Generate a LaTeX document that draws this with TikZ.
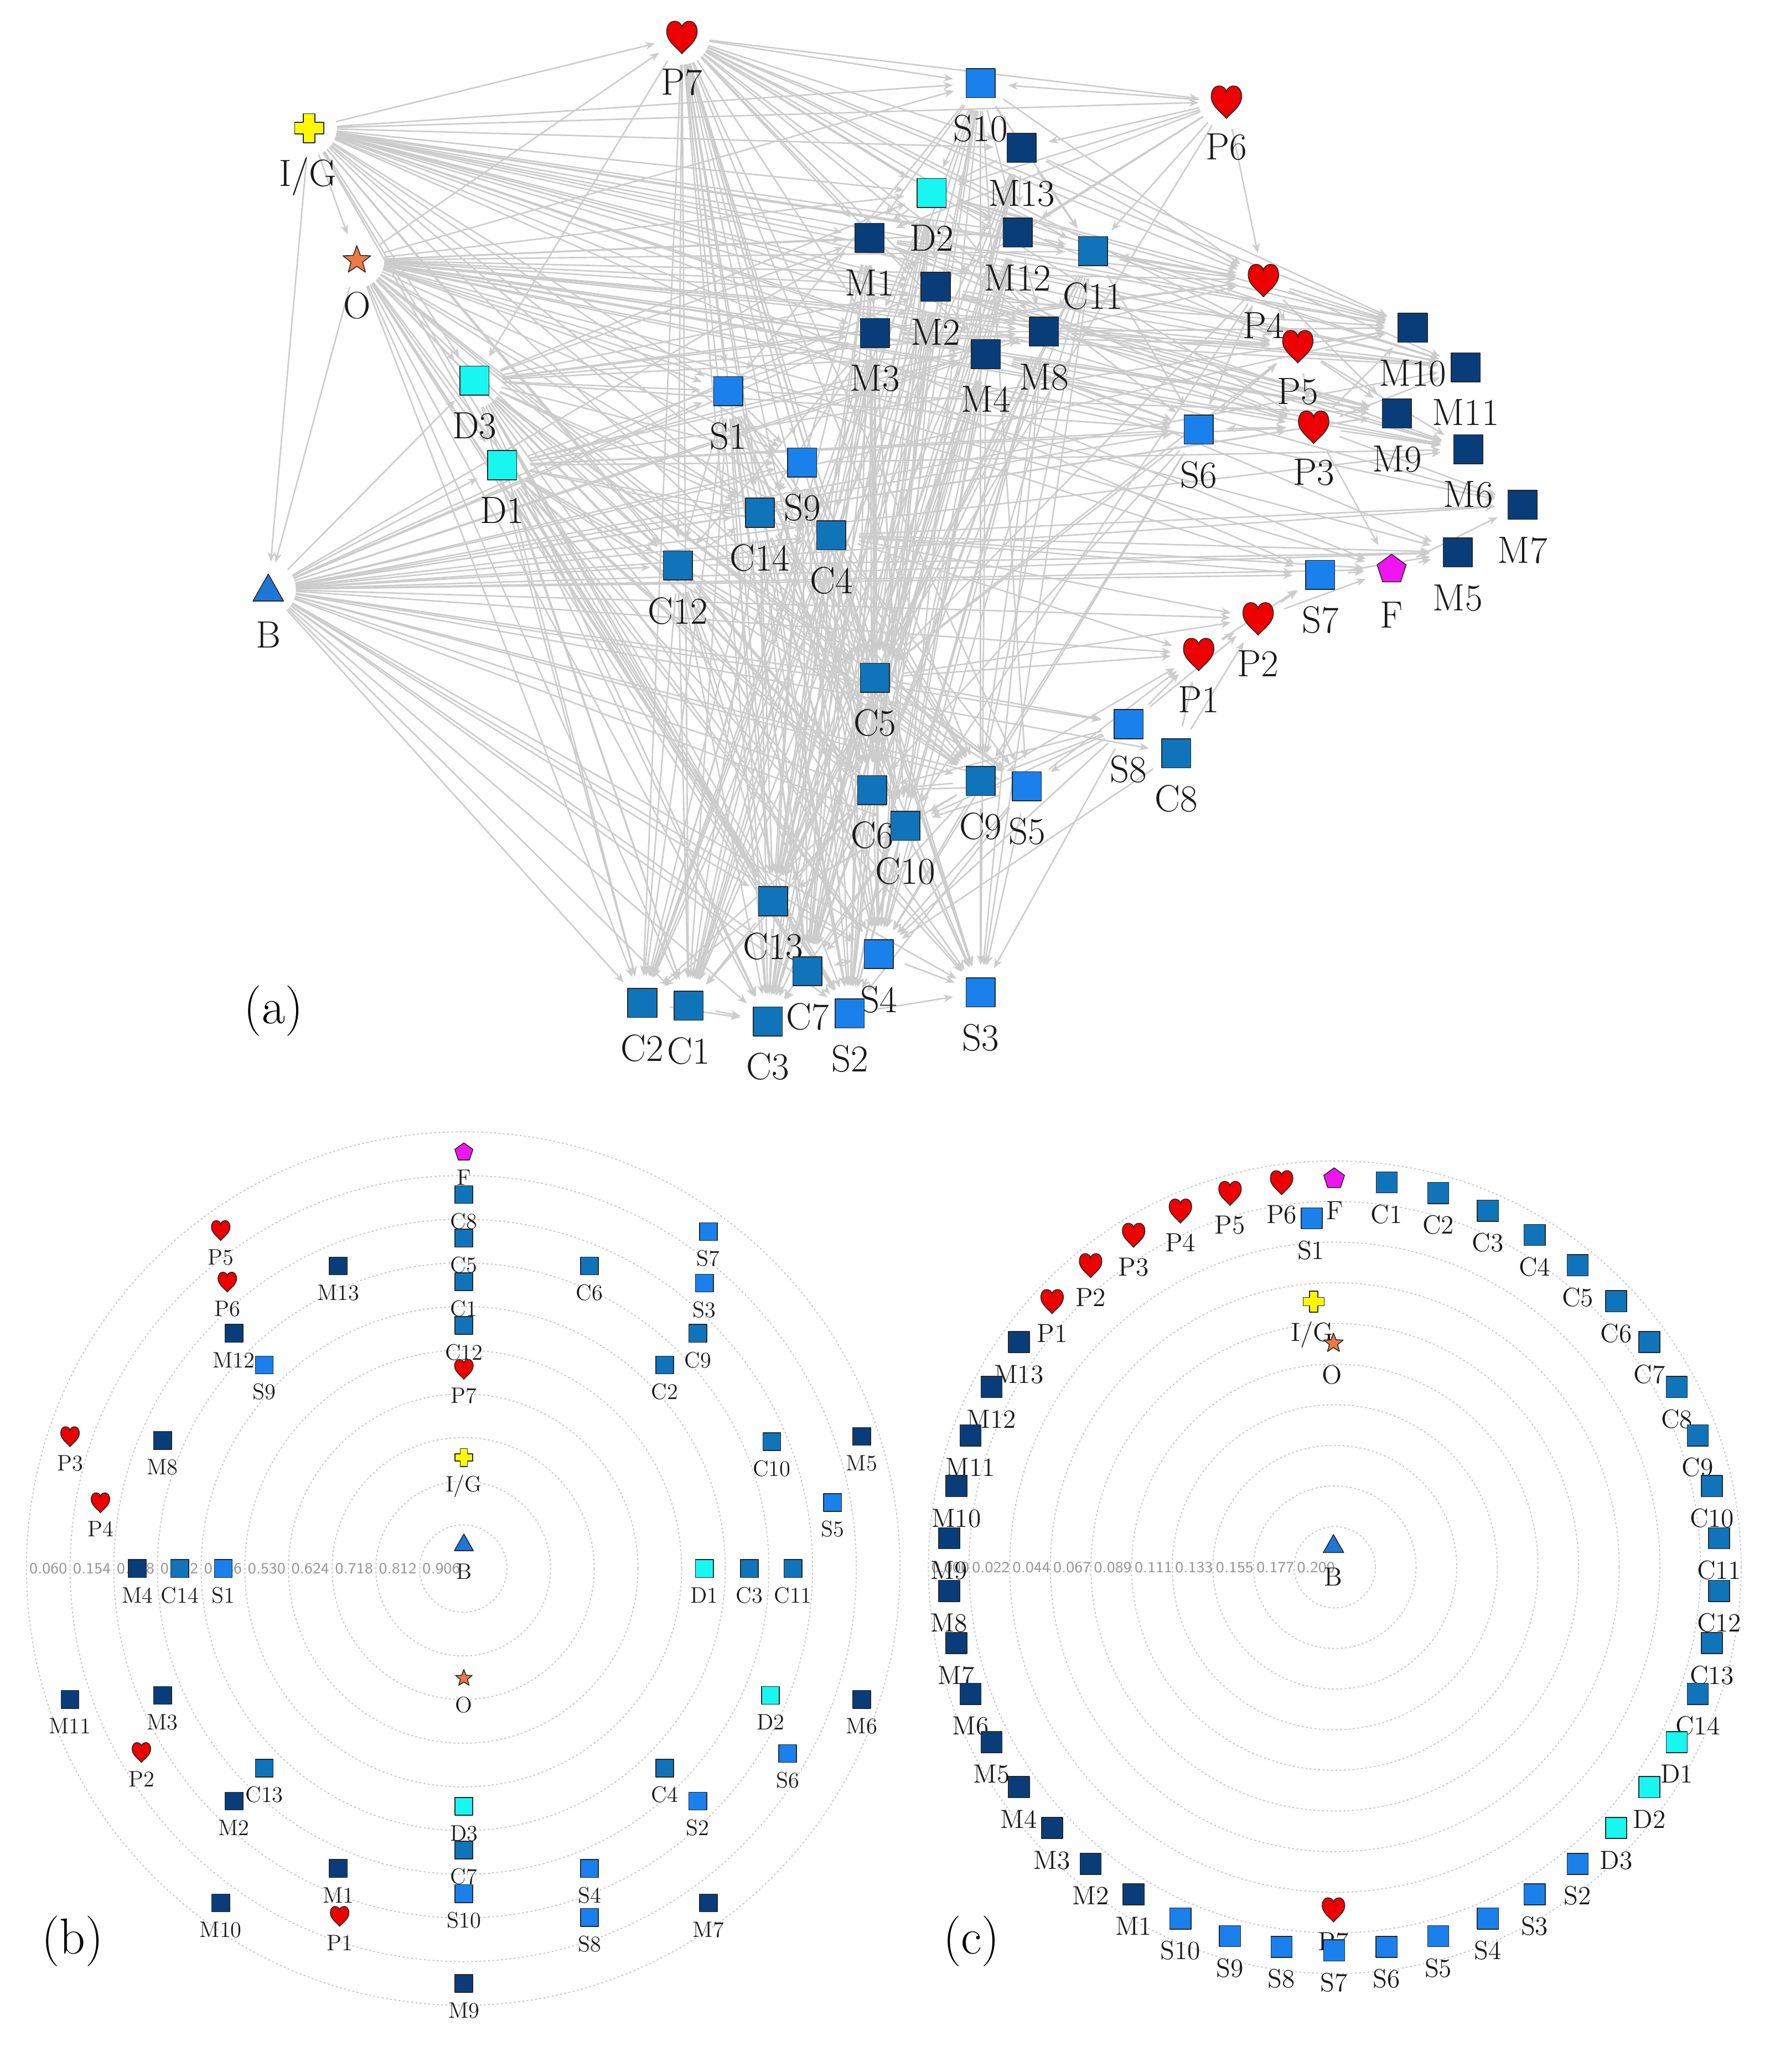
\documentclass[tikz,border=0pt]{standalone}
\usepackage{fontspec}
\usetikzlibrary{arrows.meta,calc}
\definecolor{Mcol}{RGB}{8,61,122}
\definecolor{Ccol}{RGB}{16,116,186}
\definecolor{Scol}{RGB}{26,128,236}
\definecolor{Dcol}{RGB}{24,246,240}
\definecolor{Pcol}{RGB}{238,0,0}
\definecolor{Fcol}{RGB}{240,20,240}
\definecolor{IGcol}{RGB}{255,250,0}
\definecolor{Ocol}{RGB}{236,122,70}
\definecolor{Bcol}{RGB}{30,118,214}
\definecolor{symline}{RGB}{40,40,40}
\definecolor{edgecol}{RGB}{204,204,204}
\definecolor{ringcol}{RGB}{196,196,196}
\definecolor{scalecol}{RGB}{150,150,150}
\definecolor{txtcol}{RGB}{25,25,25}

\tikzset{
 symstroke/.style={draw=symline,line width=0.45pt,line join=round},
 pics/sqsym/.style args={#1/#2}{code={\path[symstroke,fill=#2] (-#1/2,-#1/2) rectangle (#1/2,#1/2);}},
 pics/heartsym/.style={code={\begin{scope}[scale=#1]\path[symstroke,fill=Pcol] (0,0.55) .. controls (-0.15,0.36) and (-0.5,0.15) .. (-0.5,-0.17) .. controls (-0.5,-0.42) and (-0.36,-0.52) .. (-0.25,-0.52) .. controls (-0.1,-0.52) and (0,-0.42) .. (0,-0.3) .. controls (0,-0.42) and (0.1,-0.52) .. (0.25,-0.52) .. controls (0.36,-0.52) and (0.5,-0.42) .. (0.5,-0.17) .. controls (0.5,0.15) and (0.15,0.36) .. (0,0.55) -- cycle;\end{scope}}},
 pics/crosssym/.style={code={\begin{scope}[scale=#1]\path[symstroke,fill=IGcol] (-0.2,-0.5) -- (0.2,-0.5) -- (0.2,-0.2) -- (0.5,-0.2) -- (0.5,0.2) -- (0.2,0.2) -- (0.2,0.5) -- (-0.2,0.5) -- (-0.2,0.2) -- (-0.5,0.2) -- (-0.5,-0.2) -- (-0.2,-0.2) -- cycle;\end{scope}}},
 pics/starsym/.style={code={\begin{scope}[scale=#1]\path[symstroke,fill=Ocol] (-90:0.55) -- (-54:0.23) -- (-18:0.55) -- (18:0.23) -- (54:0.55) -- (90:0.23) -- (126:0.55) -- (162:0.23) -- (198:0.55) -- (234:0.23) -- cycle;\end{scope}}},
 pics/pentsym/.style={code={\begin{scope}[scale=#1]\path[symstroke,fill=Fcol] (-90:0.55) -- (-18:0.55) -- (54:0.55) -- (126:0.55) -- (198:0.55) -- cycle;\end{scope}}},
 pics/trisym/.style={code={\begin{scope}[scale=#1]\path[symstroke,fill=Bcol] (0,-0.55) -- (0.55,0.42) -- (-0.55,0.42) -- cycle;\end{scope}}},
 anode/.style={circle,minimum size=1.0cm,inner sep=0pt,outer sep=0pt},
 link/.style={draw=edgecol,line width=0.75pt,-{Stealth[length=5pt,width=4pt]}},
 ringline/.style={draw=ringcol,line width=0.55pt,dash pattern=on 0.9pt off 1.3pt},
 lbl/.style={text=txtcol,inner sep=0pt,anchor=base},
 lblA/.style={lbl,font=\fontsize{19.5}{19.5}\selectfont},
 lblB/.style={lbl,font=\fontsize{11.5}{11.5}\selectfont},
 lblC/.style={lbl,font=\fontsize{13.5}{13.5}\selectfont},
 panellbl/.style={text=black,inner sep=0pt,font=\fontsize{26}{26}\selectfont},
 scalelbl/.style={text=scalecol,inner sep=0pt,anchor=west,font=\sffamily\fontsize{8}{8}\selectfont},
}

% ---------- panel (a) data ----------
\def\aSq{S10/742/63/Scol, M13/773/112/Mcol, D2/705/146/Dcol, M1/658/180/Mcol, M12/770/176/Mcol, C11/827/190/Ccol, M2/708/217/Mcol, M3/662/252/Mcol, M8/790/251/Mcol, M4/746/268/Mcol, S6/907/325/Scol, M10/1069/248/Mcol, M11/1109/278/Mcol, M9/1057/313/Mcol, M6/1111/340/Mcol, M7/1152/382/Mcol, M5/1103/418/Mcol, S7/999/435/Scol, S8/854/548/Scol, C8/890/570/Ccol, C5/662/513/Ccol, C6/660/598/Ccol, C10/685/625/Ccol, C9/742/591/Ccol, S5/777/595/Scol, S4/665/722/Scol, S3/742/751/Scol, S2/643/767/Scol, D3/359/288/Dcol, D1/380/352/Dcol, S1/551/296/Scol, S9/607/350/Scol, C14/575/388/Ccol, C4/629/405/Ccol, C12/513/428/Ccol, C13/585/682/Ccol, C7/611/735/Ccol, C2/486/759/Ccol, C1/521/761/Ccol, C3/581/773/Ccol}
\def\aHe{P7/516/28, P6/928/77, P4/956/212, P5/982/262, P3/994/323, P2/952/468, P1/907/495}
% ---------- panel (b) data ----------
\def\bSq{C8/351/904/Ccol, C5/351/937/Ccol, C1/351/970/Ccol, C12/351/1003/Ccol, D3/351/1367/Dcol, C7/351/1400/Ccol, S10/351/1433/Scol, M9/351/1501/Mcol, M13/256/958/Mcol, M12/177/1009/Mcol, S9/200/1033/Scol, M8/123/1090/Mcol, M4/104/1187/Mcol, C14/136/1187/Ccol, S1/169/1187/Scol, M11/53/1286/Mcol, M3/123/1283/Mcol, C13/200/1338/Ccol, M2/177/1363/Mcol, M1/256/1414/Mcol, M10/167/1440/Mcol, C6/446/958/Ccol, S7/536/932/Scol, S3/533/971/Scol, C9/528/1009/Ccol, C2/503/1033/Ccol, C10/584/1091/Ccol, M5/652/1087/Mcol, S5/630/1137/Scol, D1/533/1187/Dcol, C3/567/1187/Ccol, C11/600/1187/Ccol, D2/583/1283/Dcol, M6/652/1286/Mcol, S6/596/1327/Scol, C4/503/1338/Ccol, S2/528/1363/Scol, S4/446/1414/Scol, S8/446/1451/Scol, M7/536/1440/Mcol}
\def\bHe{P5/167/931, P6/172/970, P7/351/1036, P3/53/1087, P4/76/1137, P2/107/1326, P1/257/1450}
% ---------- panel (c) data ----------
\def\cSq{C1/1/Ccol,C2/2/Ccol,C3/3/Ccol,C4/4/Ccol,C5/5/Ccol,C6/6/Ccol,C7/7/Ccol,C8/8/Ccol,C9/9/Ccol,C10/10/Ccol,C11/11/Ccol,C12/12/Ccol,C13/13/Ccol,C14/14/Ccol,D1/15/Dcol,D2/16/Dcol,D3/17/Dcol,S2/18/Scol,S3/19/Scol,S4/20/Scol,S5/21/Scol,S6/22/Scol,S7/23/Scol,S8/24/Scol,S9/25/Scol,S10/26/Scol,M1/27/Mcol,M2/28/Mcol,M3/29/Mcol,M4/30/Mcol,M5/31/Mcol,M6/32/Mcol,M7/33/Mcol,M8/34/Mcol,M9/35/Mcol,M10/36/Mcol,M11/37/Mcol,M12/38/Mcol,M13/39/Mcol}
\def\cHe{P1/40,P2/41,P3/42,P4/43,P5/44,P6/45}

\begin{document}
\begin{tikzpicture}[x=0.02387cm,y=-0.02387cm]
\path[use as bounding box,fill=white] (0,0) rectangle (1343,1568);

% ================= PANEL (a) =================
\foreach \n/\x/\y/\c in \aSq \node[anode] (a\n) at (\x,\y) {};
\foreach \n/\x/\y in \aHe \node[anode] (a\n) at (\x,\y) {};
\node[anode] (aIG) at (234,97) {};
\node[anode] (aO) at (270,197) {};
\node[anode] (aB) at (203,446) {};
\node[anode] (aF) at (1053,431) {};

\foreach \t in {P7,S10,P6,M13,D2,M1,M12,C11,P4,M10,M3,M2,M8,M4,S1,S9,C14,C12,D3,D1,O,B,P5,S6,C4,C5,P3,M11,S7,F,M9,M6,C13,C6} \draw[link] (aIG) -- (a\t);
\foreach \t in {P7,S10,M1,D2,M12,C11,M3,M2,M8,M4,P4,P5,P3,M10,M11,S6,D3,D1,C12,C14,S9,S1,C4,C5,C6,C13,C2,C1,C3,C7,B,M9,S7,F,M6,M7,M5,C10,C9,S5,S4,S2} \draw[link] (aO) -- (a\t);
\foreach \t in {D3,D1,S1,S9,C14,C4,C12,C5,C6,C10,C9,S5,S8,C8,P1,P2,S7,F,M5,M7,M6,M9,M11,M10,P3,S6,M4,M3,M8,C2,C1,C3,C13,C7,S2,S4,S3,M1,M2} \draw[link] (aB) -- (a\t);
\foreach \t in {S10,P6,M13,D2,M1,M12,C11,S1,S9,C14,C4,C12,C5,C6,C10,C9,S5,C13,C7,C3,C2,C1,S4,S2,S3,M3,M2,M4,M8,P4,D3,S6,P5,P3,M10} \draw[link] (aP7) -- (a\t);
\foreach \t in {S1,C14,S9,C12,C4,C5,C6,C13,C2,C1,C3,C7,S4,S2,M1,M3,M2,D2,P4,S6,C10,C9,S5,S3,M4,M8} \draw[link] (aD3) -- (a\t);
\foreach \t in {S9,C14,C4,C12,C5,C6,C10,C13,C2,C1,C3,C7,S4,S2,S3,M3,M4,S6,P3,C9,S5,M8,M10} \draw[link] (aD1) -- (a\t);
\foreach \t in {M13,D2,C11,M12,M1,S1,C5,C6,C13,C7,C2,C1,P4,C9,S5,C10} \draw[link] (aS10) -- (a\t);
\foreach \t in {S10,M13,C11,M12,P4,D2,M1,M2,C5} \draw[link] (aP6) -- (a\t);
\foreach \t in {D2,M12,C11,C5,C6,C13,C7,C2,C1,C3,P4,M10} \draw[link] (aM13) -- (a\t);
\foreach \t in {M1,M2,M12,M3,M8,C5,C6,C13,C2,C1,C3,C7,S4,S2,M11,P4,P5,M10} \draw[link] (aD2) -- (a\t);
\foreach \t in {M2,M3,C5,C6,C10,C13,C7,C3,C2,C1,S4,S2,P4,P3,M10,M11,M6} \draw[link] (aM1) -- (a\t);
\foreach \t in {M8,M4,C11,C5,C6,C13,C7,C1,C3,S2} \draw[link] (aM12) -- (a\t);
\foreach \t in {M3,M4,M8,C5,C6,C13,C2,C1,C3,C7,S4,S2,P5,M9,P3,M6} \draw[link] (aM2) -- (a\t);
\foreach \t in {M4,C12,C14,C4,C5,C6,C10,C13,C2,C1,C3,C7,S4,S2,M11,M10,M9,P4,P5} \draw[link] (aM3) -- (a\t);
\foreach \t in {C5,C6,C10,C13,C7,C3,S4,S2,S3,S6,M7,M9,M6,M5} \draw[link] (aM4) -- (a\t);
\foreach \t in {M4,C5,C6,C10,C9,C13,C7,S4,S2,S3,P5,P4,M6,M10,M11,M9} \draw[link] (aM8) -- (a\t);
\foreach \t in {P4,M8,C5,C6,C9,C13,S4,S3,M10,M11,S6} \draw[link] (aC11) -- (a\t);
\foreach \t in {P5,M10,M11,M9,C11,S6,C5,C10} \draw[link] (aP4) -- (a\t);
\foreach \t in {P3,M10,M11,M9,M6,S6,C5} \draw[link] (aP5) -- (a\t);
\foreach \t in {M11,M9,M6,M7,S6,M10,F} \draw[link] (aP3) -- (a\t);
\foreach \t in {P3,P5,P4,C5,C9,C6,S4} \draw[link] (aS6) -- (a\t);
\foreach \t in {S9,C14,C4,C5,C6,C12,C13,C2,C1,C3,C7,S4,S2,S3,C10,C9,M9} \draw[link] (aS1) -- (a\t);
\foreach \t in {C14,C4,C5,C6,C13,C2,C1,C3,C7,S4,S2,M6,C10,C9,S3} \draw[link] (aS9) -- (a\t);
\foreach \t in {C4,C5,C6,C13,C2,C1,C3,C7,S2,S4,M9,C10,S3,C9} \draw[link] (aC14) -- (a\t);
\foreach \t in {C5,C6,C10,C13,C3,C7,S4,S2,M5,S7,F,M7,C9,S5,S3,P1,P2} \draw[link] (aC4) -- (a\t);
\foreach \t in {C14,C4,C5,C6,C13,C2,C1,C3,C7,S4,S2,M5,C10,C9,S3} \draw[link] (aC12) -- (a\t);
\foreach \t in {C6,C10,C9,S5,C13,C7,C3,S4,S2,S3,S8,P1,P2} \draw[link] (aC5) -- (a\t);
\foreach \t in {C13,C7,C3,S4,S2,C1,C2} \draw[link] (aC6) -- (a\t);
\foreach \t in {C13,C7,S4,S2,S3,C3} \draw[link] (aC10) -- (a\t);
\foreach \t in {C6,C10,S4,S3,C7,C13,P1} \draw[link] (aC9) -- (a\t);
\foreach \t in {C6,C10,S4,S3,S2,P1} \draw[link] (aS5) -- (a\t);
\foreach \t in {P1,P2,C9,S5,C6,C10,S3,S4} \draw[link] (aS8) -- (a\t);
\foreach \t in {P1,P2,S4} \draw[link] (aC8) -- (a\t);
\foreach \t in {P2,S7} \draw[link] (aP1) -- (a\t);
\foreach \t in {S7,F} \draw[link] (aP2) -- (a\t);
\foreach \t in {F,M5} \draw[link] (aS7) -- (a\t);
\foreach \t in {M5,M7} \draw[link] (aF) -- (a\t);
\foreach \t in {C7,C3,C1,C2,S4,S2} \draw[link] (aC13) -- (a\t);
\foreach \t in {C3,S2,S4} \draw[link] (aC7) -- (a\t);
\foreach \t in {S2,S3,C7} \draw[link] (aS4) -- (a\t);
\draw[link] (aC2) -- (aC3);
\draw[link] (aC1) -- (aC3);
\draw[link] (aS2) -- (aS3);

% labels (a)
\foreach \n/\x/\y/\c in \aSq \node[lblA] (aL\n) at (\x,\y+44) {\n};
\foreach \n/\x/\y in \aHe \node[lblA] (aL\n) at (\x,\y+44) {\n};
\node[lblA] (aLIG) at (233,141) {I/G};
\node[lblA] (aLO) at (270,241) {O};
\node[lblA] (aLB) at (203,490) {B};
\node[lblA] (aLF) at (1053,475) {F};
% symbols (a)
\foreach \n/\x/\y/\c in \aSq \pic at (\x,\y) {sqsym=22/\c};
\foreach \n/\x/\y in \aHe \pic at (\x,\y) {heartsym=23};
\pic at (234,97) {crosssym=22};
\pic at (270,197) {starsym=20};
\pic at (203,446) {trisym=21};
\pic at (1053,431) {pentsym=21};
\node[panellbl] (panelA) at (207,765) {(a)};

% ================= PANEL (b) =================
\foreach \k in {1,...,10} \draw[ringline] (350.5,1187) circle [radius={33.05*\k}];
\foreach \k/\v in {10/0.060,9/0.154,8/0.248,7/0.342,6/0.436,5/0.530,4/0.624,3/0.718,2/0.812,1/0.906}
  \node[scalelbl] (bS\k) at ({352.5-33.05*\k},1187) {\v};
\foreach \n/\x/\y/\c in \bSq \node[lblB] (bL\n) at (\x,\y+26) {\n};
\foreach \n/\x/\y in \bHe \node[lblB] (bL\n) at (\x,\y+26) {\n};
\node[lblB] (bLF) at (351,897) {F};
\node[lblB] (bLIG) at (351,1129) {I/G};
\node[lblB] (bLB) at (351,1195) {B};
\node[lblB] (bLO) at (351,1296) {O};
\foreach \n/\x/\y/\c in \bSq \pic at (\x,\y) {sqsym=13.5/\c};
\foreach \n/\x/\y in \bHe \pic at (\x,\y) {heartsym=14};
\pic at (351,872) {pentsym=13};
\pic at (351,1103) {crosssym=13.5};
\pic at (351,1168) {trisym=13};
\pic at (351,1270) {starsym=12};
\node[panellbl] (panelB) at (55,1469) {(b)};

% ================= PANEL (c) =================
\coordinate (cc) at (1009.5,1184);
\foreach \k in {1,...,10} \draw[ringline] (1010,1186) circle [radius={30.75*\k}];
\foreach \k/\v in {10/0.000,9/0.022,8/0.044,7/0.067,6/0.089,5/0.111,4/0.133,3/0.155,2/0.177,1/0.200}
  \node[scalelbl] (cS\k) at ({1012-30.75*\k},1186) {\v};
\foreach \n/\i/\c in \cSq \node[lblC] (cL\n) at ($(cc)+({-90+\i*360/46}:292)+(0,31)$) {\n};
\foreach \n/\i in \cHe \node[lblC] (cL\n) at ($(cc)+({-90+\i*360/46}:292)+(0,31)$) {\n};
\node[lblC] (cLF) at (1010,923) {F};
\node[lblC] (cLS1) at (992,953) {S1};
\node[lblC] (cLIG) at (993,1015) {I/G};
\node[lblC] (cLO) at (1008,1047) {O};
\node[lblC] (cLB) at (1009,1200) {B};
\node[lblC] (cLP7) at (1009,1476) {P7};
\foreach \n/\i/\c in \cSq \pic at ($(cc)+({-90+\i*360/46}:292)$) {sqsym=16/\c};
\foreach \n/\i in \cHe \pic at ($(cc)+({-90+\i*360/46}:292)$) {heartsym=17};
\pic at (1009.5,892) {pentsym=15};
\pic at (992.5,922) {sqsym=16/Scol};
\pic at (994,985) {crosssym=16};
\pic at (1009,1016.5) {starsym=14};
\pic at (1009,1169) {trisym=14};
\pic at (1009,1445) {heartsym=17};
\node[panellbl] (panelC) at (735,1469) {(c)};
\end{tikzpicture}
\end{document}
